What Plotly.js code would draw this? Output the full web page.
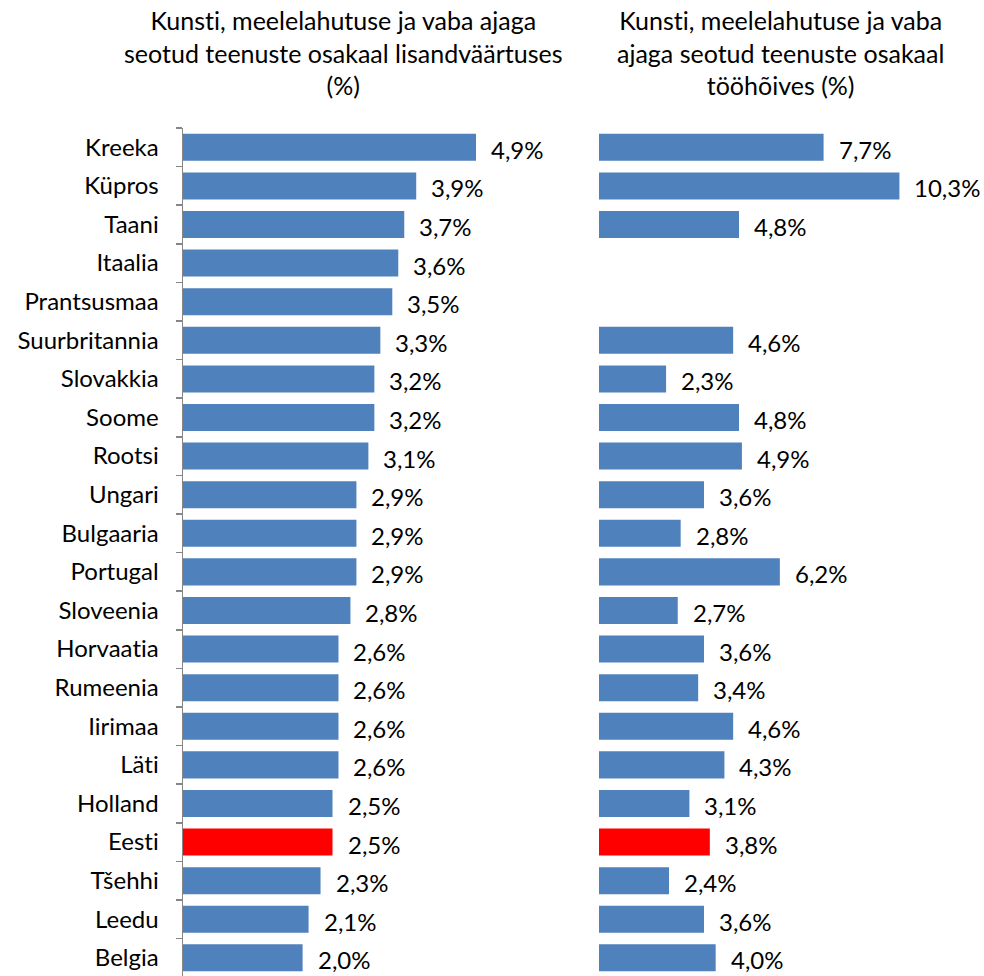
<!DOCTYPE html>
<html>
<head>
<meta charset="utf-8">
<script src="https://cdn.plot.ly/plotly-3.0.1.min.js"></script>
<style>html,body{margin:0;padding:0;background:#fff;}#chart{width:984px;height:976px;}
svg text{font-variant-ligatures:none;font-feature-settings:"liga" 0;}</style>
</head>
<body>
<div id="chart"></div>
<script>
const countries = ["Kreeka","Küpros","Taani","Itaalia","Prantsusmaa","Suurbritannia","Slovakkia","Soome","Rootsi","Ungari","Bulgaaria","Portugal","Sloveenia","Horvaatia","Rumeenia","Iirimaa","Läti","Holland","Eesti","Tšehhi","Leedu","Belgia"];
const valueAdded = [4.9,3.9,3.7,3.6,3.5,3.3,3.2,3.2,3.1,2.9,2.9,2.9,2.8,2.6,2.6,2.6,2.6,2.5,2.5,2.3,2.1,2.0];
const employment = [7.7,10.3,4.8,null,null,4.6,2.3,4.8,4.9,3.6,2.8,6.2,2.7,3.6,3.4,4.6,4.3,3.1,3.8,2.4,3.6,4.0];
const highlight = "Eesti";
const titleLeft = "Kunsti, meelelahutuse ja vaba ajaga<br>seotud teenuste osakaal lisandväärtuses<br>(%)";
const titleRight = "Kunsti, meelelahutuse ja vaba<br>ajaga seotud teenuste osakaal<br>tööhõives (%)";

const BLUE = "#4F81BD", RED = "#FF0000";
const FONT = "Lato, Open Sans, sans-serif";
const FS = 24, FT = 25;
const colors = countries.map(c => c === highlight ? RED : BLUE);
const fmt = v => v.toFixed(1).replace(".", ",") + "%";

const W = 984, H = 976, T = 128;
const traces = [
  {type:"bar", orientation:"h", y:countries, x:valueAdded, xaxis:"x", yaxis:"y",
   marker:{color:colors}, hoverinfo:"none"},
  {type:"bar", orientation:"h", y:countries, x:employment, xaxis:"x2", yaxis:"y",
   marker:{color:colors}, hoverinfo:"none"}
];

const annotations = [];
countries.forEach((c,i) => {
  if (valueAdded[i] != null) annotations.push({xref:"x", yref:"y", x:valueAdded[i], y:c, text:fmt(valueAdded[i]),
    showarrow:false, xanchor:"left", xshift:13, yshift:-2, font:{family:FONT, size:FS, color:"#000"}});
  if (employment[i] != null) annotations.push({xref:"x2", yref:"y", x:employment[i], y:c, text:fmt(employment[i]),
    showarrow:false, xanchor:"left", xshift:13, yshift:-2, font:{family:FONT, size:FS, color:"#000"}});
});
annotations.push({xref:"paper", yref:"paper", x:343/W, y:1+(T-3)/(H-T), yanchor:"top", xanchor:"center",
  text:titleLeft, showarrow:false, align:"center", font:{family:FONT, size:FT, color:"#000"}});
annotations.push({xref:"paper", yref:"paper", x:780/W, y:1+(T-3)/(H-T), yanchor:"top", xanchor:"center",
  text:titleRight, showarrow:false, align:"center", font:{family:FONT, size:FT, color:"#000"}});

const layout = {
  width:W, height:H,
  margin:{l:0, r:0, t:T, b:0, pad:0},
  paper_bgcolor:"#fff", plot_bgcolor:"#fff",
  showlegend:false, bargap:0.3,
  font:{family:FONT, size:FS, color:"#000"},
  xaxis:{domain:[183/W, 571.7/W], range:[0,6.5], visible:false, fixedrange:true},
  xaxis2:{domain:[599/W, 1], range:[0,13.2], visible:false, fixedrange:true},
  yaxis:{type:"category", categoryorder:"array", categoryarray:countries,
    range:[21.47,-0.5], autorange:false, anchor:"x",
    showline:true, linecolor:"#868686", linewidth:1.5,
    ticks:"outside", tickson:"boundaries", ticklen:6, tickcolor:"#868686", tickwidth:1.5,
    ticklabelstandoff:18, showgrid:false, zeroline:false, automargin:false,
    tickfont:{family:FONT, size:FS, color:"#000"}},
  annotations:annotations
};

Plotly.newPlot("chart", traces, layout, {staticPlot:true, displayModeBar:false});
</script>
</body>
</html>
